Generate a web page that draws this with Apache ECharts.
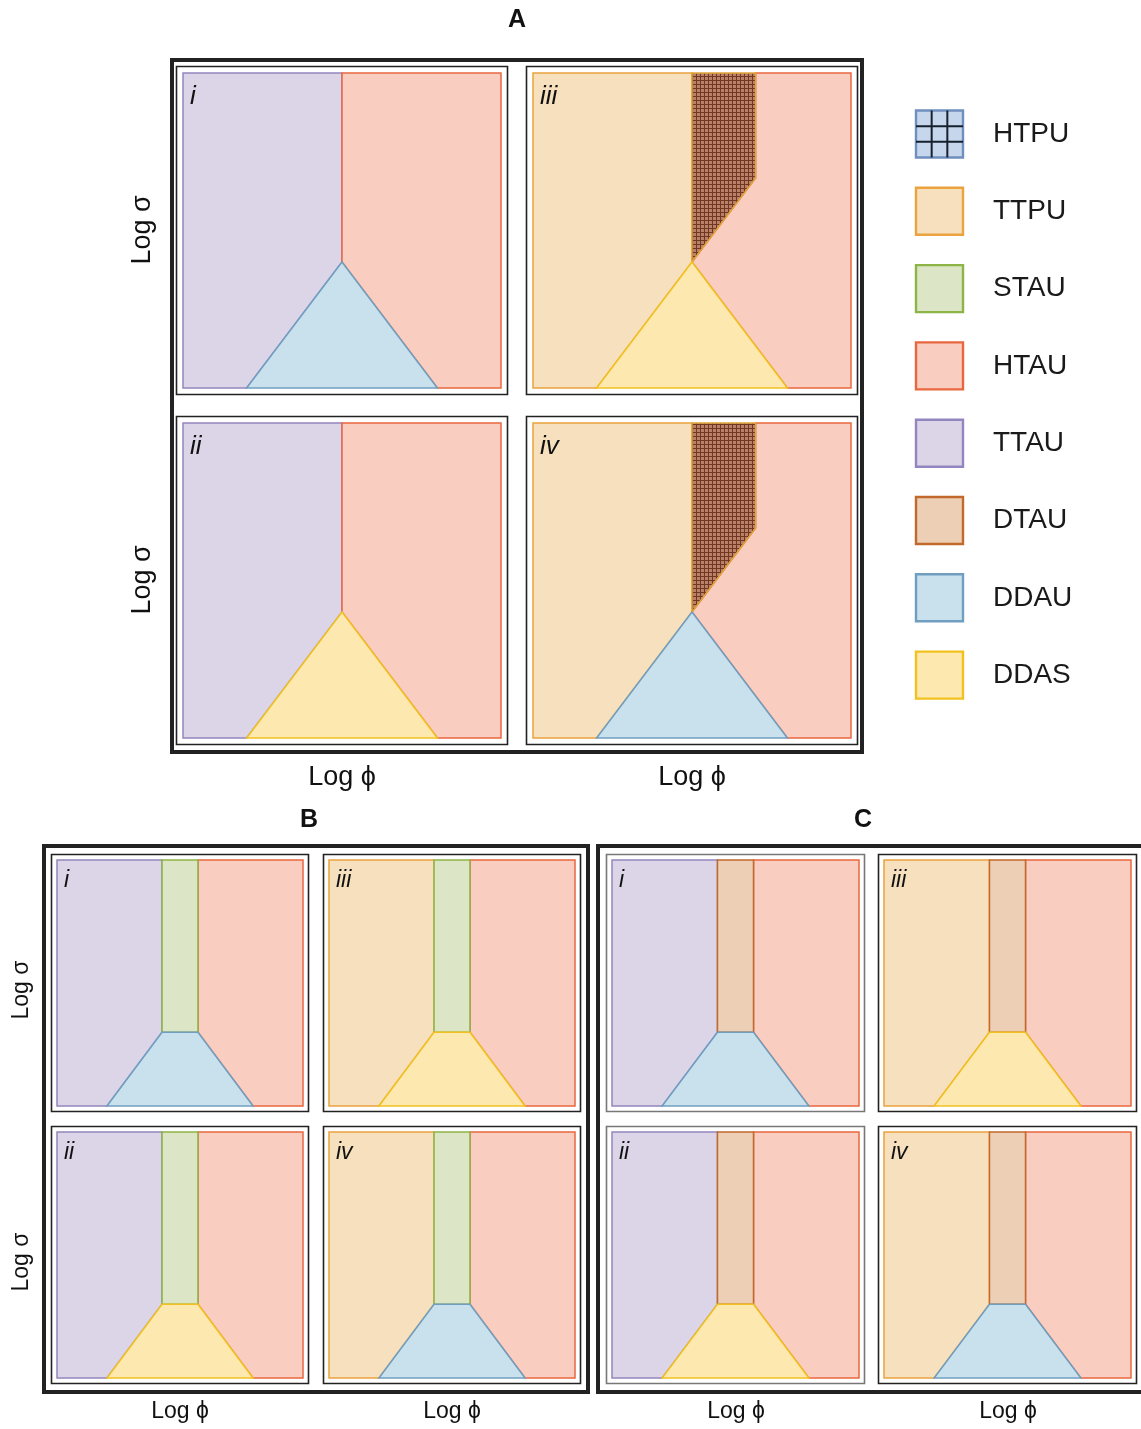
<!DOCTYPE html>
<html><head><meta charset="utf-8">
<script src="https://cdn.jsdelivr.net/npm/echarts@6/dist/echarts.min.js"></script>
<style>html,body{margin:0;padding:0;background:#fff}#c{width:1141px;height:1429px}</style>
</head><body><div id="c"></div>
<script>
// ---------- data ----------
const phaseNames   = ['HTPU','TTPU','STAU','HTAU','TTAU','DTAU','DDAU','DDAS'];
const phaseFills   = ['#c6d6ec','#f6e0bd','#dce6c6','#f9cdc0','#dcd5e7','#edcfb6','#c9e0ed','#fde8af'];
const phaseStrokes = ['#6f8fbf','#eaa33e','#8db446','#e9673f','#9385bf','#c2692c','#6f9ec0','#f2c11f'];
const panelIds   = ['i','ii','iii','iv'];
const leftPhase  = ['TTAU','TTAU','TTPU','TTPU'];
const lowerPhase = ['DDAU','DDAS','DDAS','DDAU'];
const midPhaseA  = [null, null, 'HTPU', 'HTPU'];
const midPhaseB  = 'STAU';
const midPhaseC  = 'DTAU';
const rightPhase = 'HTAU';
// Panel A boundaries (Log phi, Log sigma), normalised
const triBase   = [0.2, 0.8];
const triApex   = [0.5, 0.4];
const htpuEdge  = [0.7, 0.667];
// Panels B/C boundaries
const trapBase  = [0.203, 0.797];
const stripEdge = [0.427, 0.573];
const trapTopY  = 0.30;

// ---------- region geometry from the data ----------
function regionsA(k) {
  const [bl, br] = triBase, [ax, ay] = triApex, [hx, hy] = htpuEdge;
  const out = [];
  out.push({ph: leftPhase[k], pts: [[0,0],[bl,0],[ax,ay],[ax,1],[0,1]]});
  if (midPhaseA[k]) {
    out.push({ph: rightPhase, pts: [[ax,ay],[br,0],[1,0],[1,1],[hx,1],[hx,hy]]});
    out.push({ph: midPhaseA[k], pts: [[ax,ay],[hx,hy],[hx,1],[ax,1]], hatch: true});
  } else {
    out.push({ph: rightPhase, pts: [[ax,ay],[br,0],[1,0],[1,1],[ax,1]]});
  }
  out.push({ph: lowerPhase[k], pts: [[bl,0],[br,0],[ax,ay]]});
  return out;
}
function regionsBC(k, mid) {
  const [bl, br] = trapBase, [sl, sr] = stripEdge, t = trapTopY;
  return [
    {ph: leftPhase[k], pts: [[0,0],[bl,0],[sl,t],[sl,1],[0,1]]},
    {ph: rightPhase,   pts: [[sr,t],[br,0],[1,0],[1,1],[sr,1]]},
    {ph: mid,          pts: [[sl,t],[sr,t],[sr,1],[sl,1]]},
    {ph: lowerPhase[k],pts: [[bl,0],[br,0],[sr,t],[sl,t]]}
  ];
}

// ---------- layout ----------
const layA = [[183,73],[183,423],[533,73],[533,423]], sizeA = [318,315];
const layB = [[57,860],[57,1132],[329,860],[329,1132]], sizeB = [246,246];
const layC = [[612,860],[612,1132],[884,860],[884,1132]], sizeC = [247,246];

// hatch pattern
const pc = document.createElement('canvas'); pc.width = 4; pc.height = 4;
const pctx = pc.getContext('2d');
pctx.fillStyle = '#bb8168'; pctx.fillRect(0,0,4,4);
pctx.fillStyle = '#703722'; pctx.fillRect(0,0,4,1); pctx.fillRect(0,0,1,4);
const hatchFill = {image: pc, repeat: 'repeat'};

const FONT = 'Liberation Sans, Arial, Helvetica, sans-serif';
const grids = [], xAxes = [], yAxes = [], series = [], graphics = [];

function addPanel(pos, size, regs, label, fontSize, frameColor, pad) {
  const gi = grids.length;
  grids.push({left: pos[0], top: pos[1], width: size[0], height: size[1]});
  xAxes.push({type:'value', min:0, max:1, gridIndex: gi, show:false});
  yAxes.push({type:'value', min:0, max:1, gridIndex: gi, show:false});
  series.push({
    type: 'custom', xAxisIndex: gi, yAxisIndex: gi, silent: true,
    data: regs.map((r, i) => [i]),
    renderItem: function (params, api) {
      const r = regs[params.dataIndex];
      const idx = phaseNames.indexOf(r.ph);
      return {
        type: 'polygon',
        shape: {points: r.pts.map(p => api.coord(p))},
        style: {fill: r.hatch ? hatchFill : phaseFills[idx],
                stroke: r.hatch ? '#e0a53a' : phaseStrokes[idx], lineWidth: 1.5, lineJoin: 'miter'}
      };
    }
  });
  graphics.push({type:'rect', z: 0,
    shape:{x: pos[0]-pad, y: pos[1]-pad, width: size[0]+2*pad, height: size[1]+2*pad},
    style:{fill:'#fff', stroke: frameColor, lineWidth: 1.6}});
  graphics.push({type:'text', z: 100, x: pos[0] + 7, y: pos[1] + fontSize*0.9,
    style:{text: label, font: 'italic ' + fontSize + 'px ' + FONT, fill:'#111',
           textAlign:'left', textVerticalAlign:'middle'}});
}

// outer frames (drawn first so they sit underneath)
graphics.push({type:'rect', z:0, shape:{x:172, y:60, width:690, height:692}, style:{fill:'#fff', stroke:'#222', lineWidth:4}});
graphics.push({type:'rect', z:0, shape:{x:44, y:846, width:544, height:546}, style:{fill:'#fff', stroke:'#222', lineWidth:4}});
graphics.push({type:'rect', z:0, shape:{x:598, y:846, width:560, height:546}, style:{fill:'#fff', stroke:'#222', lineWidth:4}});

for (let k = 0; k < 4; k++) addPanel(layA[k], sizeA, regionsA(k), panelIds[k], 26, '#222', 6.5);
for (let k = 0; k < 4; k++) addPanel(layB[k], sizeB, regionsBC(k, midPhaseB), panelIds[k], 23, '#222', 5.5);
for (let k = 0; k < 4; k++) addPanel(layC[k], sizeC, regionsBC(k, midPhaseC), panelIds[k], 23, k < 2 ? '#777' : '#222', 5.5);

// titles
[['A',517,20],['B',309,820],['C',863,820]].forEach(t => graphics.push({type:'text', z:100, x:t[1], y:t[2],
  style:{text:t[0], font:'bold 25px ' + FONT, fill:'#111', textAlign:'center', textVerticalAlign:'middle'}}));

// axis names
const sigmaLabel = 'Log σ', phiLabel = 'Log ϕ';
[[143,230,27],[143,580,27],[22,990,23],[22,1262,23]].forEach(a => graphics.push({type:'text', z:100, x:a[0], y:a[1], rotation: Math.PI/2,
  style:{text: sigmaLabel, font: a[2] + 'px ' + FONT, fill:'#111', textAlign:'center', textVerticalAlign:'middle'}}));
[[342,778,27],[692,778,27],[180,1412,23],[452,1412,23],[736,1412,23],[1008,1412,23]].forEach(a => graphics.push({type:'text', z:100, x:a[0], y:a[1],
  style:{text: phiLabel, font: a[2] + 'px ' + FONT, fill:'#111', textAlign:'center', textVerticalAlign:'middle'}}));

// legend
phaseNames.forEach((name, i) => {
  const cy = 134 + i * 77.3, x0 = 916, s = 47, y0 = cy - s/2;
  graphics.push({type:'rect', z:100, shape:{x:x0, y:y0, width:s, height:s},
    style:{fill: phaseFills[i], stroke: phaseStrokes[i], lineWidth: 2.4}});
  if (name === 'HTPU') {
    for (let j = 1; j < 3; j++) {
      graphics.push({type:'line', z:101, shape:{x1:x0 + s*j/3, y1:y0, x2:x0 + s*j/3, y2:y0 + s}, style:{stroke:'#17202e', lineWidth:2}});
      graphics.push({type:'line', z:101, shape:{x1:x0, y1:y0 + s*j/3, x2:x0 + s, y2:y0 + s*j/3}, style:{stroke:'#17202e', lineWidth:2}});
    }
  }
  graphics.push({type:'text', z:100, x:993, y:cy, style:{text:name, font:'28px ' + FONT, fill:'#1a1a1a', textAlign:'left', textVerticalAlign:'middle'}});
});

const chart = echarts.init(document.getElementById('c'), null, {renderer:'canvas'});
chart.setOption({
  backgroundColor: '#fff', animation: false,
  grid: grids, xAxis: xAxes, yAxis: yAxes, series: series,
  graphic: {elements: graphics}
});
</script></body></html>
